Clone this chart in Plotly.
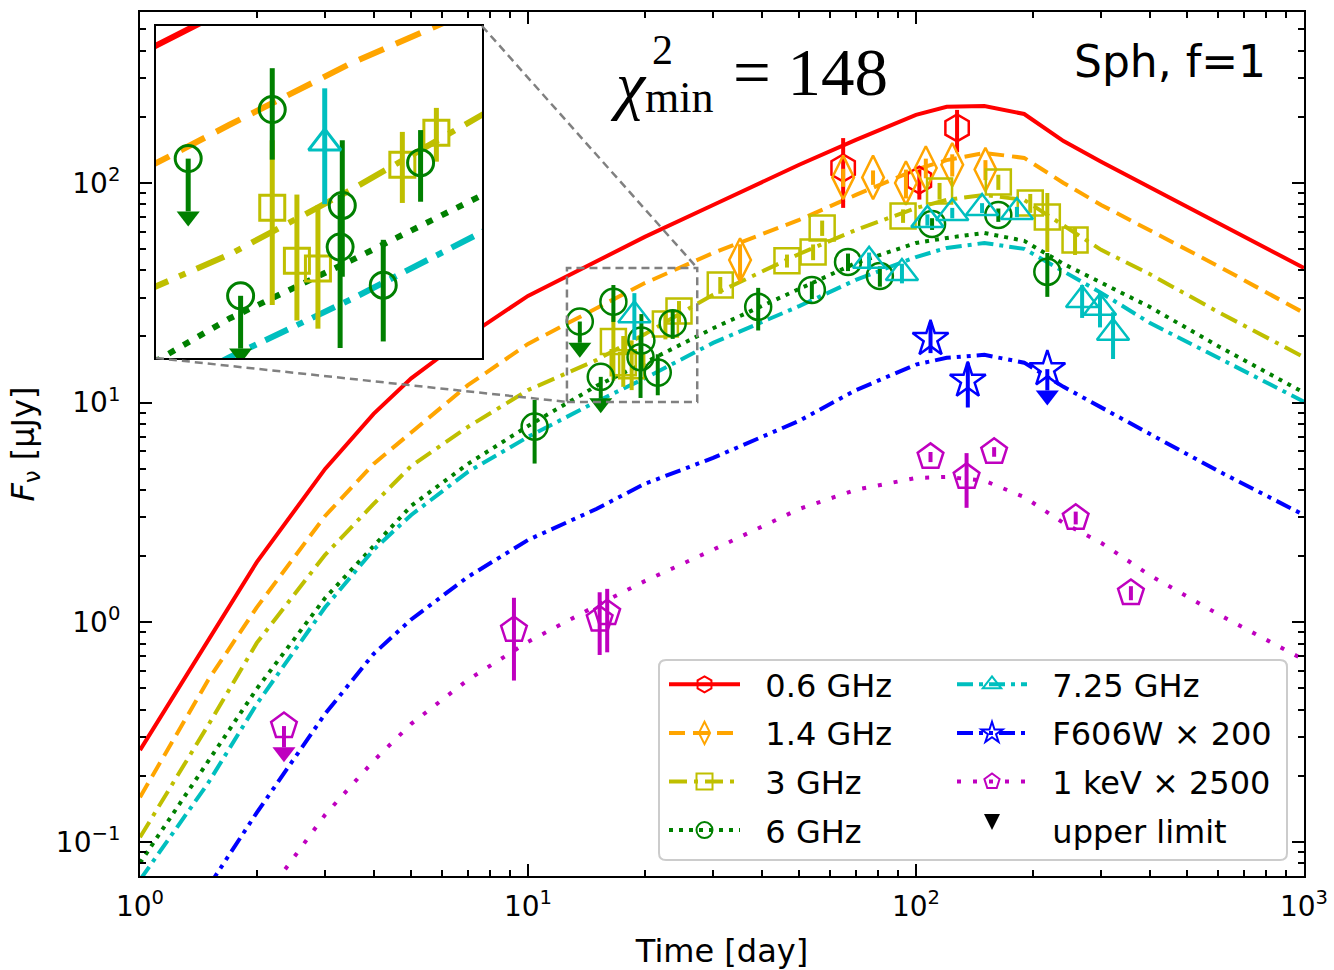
import math
import plotly.graph_objects as go

# ---------------- model light curves (common time grid, days) ----------------
t_model = [1, 1.5, 2, 3, 4, 5, 7, 10, 15, 20, 30, 50, 70, 100, 120, 150, 190, 240, 300, 400, 600, 1000]
m_0p6 = [0.262, 0.832, 1.88, 4.99, 8.89, 12.9, 20.1, 30.6, 44.2, 56.8, 79.4, 121, 157, 204, 222, 224, 206, 155, 125, 95.9, 66.4, 41.0]
m_1p4 = [0.160, 0.547, 1.17, 3.05, 5.26, 7.28, 12.0, 18.5, 27.0, 35.0, 48.0, 67.9, 88.2, 115, 127, 137, 130, 100, 79.4, 61.1, 41.9, 25.6]
m_3 = [0.105, 0.341, 0.806, 2.03, 3.46, 5.15, 7.75, 11.4, 15.6, 20.5, 31.0, 47.5, 61.1, 76.9, 83.7, 88.2, 83.7, 64.4, 49.6, 38.5, 25.9, 16.1]
m_6 = [0.0803, 0.234, 0.498, 1.29, 2.23, 3.39, 5.26, 7.83, 11.9, 15.2, 21.8, 33.0, 43.2, 53.3, 56.2, 59.2, 54.5, 42.8, 35.1, 27.3, 18.1, 11.1]
m_7p25 = [0.0672, 0.186, 0.425, 1.17, 2.14, 3.08, 4.84, 6.98, 10.1, 12.9, 18.7, 27.5, 36.2, 46.0, 50.6, 53.3, 50.1, 39.7, 31.6, 23.1, 16.0, 10.1]
m_opt = [None, 0.0625, 0.136, 0.383, 0.718, 1.03, 1.61, 2.37, 3.28, 4.27, 5.60, 8.26, 11.4, 14.9, 16.0, 16.5, 15.2, 11.8, 9.55, 7.21, 4.89, 3.08]
m_xray = [None, None, 0.0501, 0.133, 0.234, 0.345, 0.547, 0.815, 1.19, 1.54, 2.14, 3.28, 4.01, 4.54, 4.59, 4.41, 3.72, 2.83, 2.30, 1.64, 1.09, 0.675]

# ---------------- observations ----------------
t_0p6 = [64.9, 102, 127.6]
f_0p6 = [117, 103, 178]
up_0p6 = [43, 12, 37]
dn_0p6 = [40, 19, 40]

t_1p4 = [35.2, 64.9, 77.5, 94.2, 106, 124, 151]
f_1p4 = [44.6, 106, 106, 100, 117, 121, 115]
e_1p4 = [8, 10, 8, 15, 12, 14, 12]

t_3 = [16.6, 17.6, 18.5, 22.6, 24.5, 31.3, 46.5, 54.3, 57.3, 92.6, 115, 163, 197, 218, 257]
f_3 = [19.0, 15.2, 14.7, 22.8, 26.1, 34.3, 44.2, 48.5, 62.4, 70.8, 92.0, 101, 81.1, 70.0, 55.0]
up_3 = [6.3, 4.9, 4.5, 3.4, 2.9, 3, 3, 4, 5, 5, 8, 8, 8, 20, 8]
dn_3 = [6.4, 3.4, 3.3, 3.4, 3.0, 3, 3, 4, 5, 5, 8, 8, 8, 21.5, 8]

t_6 = [10.4, 16.6, 19.6, 19.5, 21.6, 23.6, 39.2, 53.9, 66.8, 80.7, 110, 163, 218]
f_6 = [7.78, 28.8, 19.2, 16.1, 13.7, 23.0, 27.3, 32.6, 43.7, 37.7, 65.1, 71.5, 39.4]
up_6 = [2.5, 5.5, 6.1, 4.0, 2.9, 3.4, 6, 3, 4, 4, 4, 5, 8.6]
dn_6 = [2.5, 5.5, 5.0, 5.6, 2.9, 3.5, 6, 3, 4, 4, 4, 5, 9.1]
t_6_ul = [13.6, 15.4]
f_6_ul = [23.4, 13.1]

t_7p25 = [18.8, 75.7, 92.0, 107, 124, 148, 182, 268, 298, 322]
f_7p25 = [25.0, 44.2, 38.9, 67.9, 73.0, 76.9, 73.8, 29.3, 27.0, 20.8]
up_7p25 = [6.5, 4, 4, 4, 4, 4, 4, 5, 5, 5]
dn_7p25 = [5.7, 4, 4, 4, 4, 4, 4, 5, 5, 5]

t_opt = [109, 136]
f_opt = [19.5, 12.6]
up_opt = [3.6, 2.6]
dn_opt = [2.7, 3.1]
t_opt_ul = [218]
f_opt_ul = [14.2]

t_xray = [9.2, 15.3, 16.0, 109, 135, 159, 258, 358]
f_xray = [0.923, 1.03, 1.10, 5.66, 4.59, 5.97, 2.99, 1.36]
up_xray = [0.37, 0.34, 0.32, 0.3, 1.3, 0.3, 0.2, 0.1]
dn_xray = [0.38, 0.32, 0.37, 0.3, 1.27, 0.3, 0.2, 0.1]
t_xray_ul = [2.35]
f_xray_ul = [0.337]

# ---------------- figure geometry ----------------
W, H = 1334, 970
ML, MR, MT, MB = 140, 30, 12, 94
PW, PH = W - ML - MR, H - MT - MB
XR = [0.0, 3.0]
YR = [math.log10(0.07), math.log10(600)]
ZX = [12.6, 27.3]           # zoom window (days)
ZY = [10.07, 41.0]          # zoom window (uJy)
INSET_X = [(156 - ML) / PW, (482 - ML) / PW]
INSET_Y = [(H - MB - 358) / PH, (H - MB - 26) / PH]
PXDEX_MAIN = PH / (YR[1] - YR[0])
PXDEX_INSET = (INSET_Y[1] - INSET_Y[0]) * PH / (math.log10(ZY[1]) - math.log10(ZY[0]))


def px(x):
    return (x - ML) / PW


def py(y):
    return (H - MB - y) / PH


def data_to_paper(t, f):
    return ((math.log10(t) - XR[0]) / (XR[1] - XR[0]),
            (math.log10(f) - YR[0]) / (YR[1] - YR[0]))


RED, ORANGE, YELLOW, GREEN = "#ff0000", "#ffa500", "#bfbf00", "#008000"
CYAN, BLUE, MAGENTA = "#00bfbf", "#0000ff", "#bf00bf"

series = [
    # name, color, model, main dash, inset dash, symbol, size
    ("0.6 GHz", RED, m_0p6, "solid", "solid", "hexagon-open", 27),
    ("1.4 GHz", ORANGE, m_1p4, "16px,8px", "27px,13px", "diamond-tall-open", 31),
    ("3 GHz", YELLOW, m_3, "18px,7px,4px,7px", "30px,12px,7px,12px", "square-open", 25),
    ("6 GHz", GREEN, m_6, "4px,6px", "7px,10px", "circle-open", 26),
    ("7.25 GHz", CYAN, m_7p25, "16px,6px,4px,6px", "25px,10px,7px,10px", "triangle-up-open", 28),
    ("F606W × 200", BLUE, m_opt, "16px,6px,4px,6px,4px,6px", "25px,10px,7px,10px,7px,10px", "star-open", 27),
    ("1 keV × 2500", MAGENTA, m_xray, "4px,12px", "7px,18px", "pentagon-open", 27),
]

obs = {
    "0.6 GHz": (t_0p6, f_0p6, up_0p6, dn_0p6),
    "1.4 GHz": (t_1p4, f_1p4, e_1p4, e_1p4),
    "3 GHz": (t_3, f_3, up_3, dn_3),
    "6 GHz": (t_6, f_6, up_6, dn_6),
    "7.25 GHz": (t_7p25, f_7p25, up_7p25, dn_7p25),
    "F606W × 200": (t_opt, f_opt, up_opt, dn_opt),
    "1 keV × 2500": (t_xray, f_xray, up_xray, dn_xray),
}
uplims = {
    "6 GHz": (t_6_ul, f_6_ul),
    "F606W × 200": (t_opt_ul, f_opt_ul),
    "1 keV × 2500": (t_xray_ul, f_xray_ul),
}

fig = go.Figure()

panels = [
    # axes, line width, errorbar width, marker edge, dash index, px per decade
    (("x", "y"), 4.0, 4, 2.5, 3, PXDEX_MAIN),
    (("x2", "y2"), 6.0, 5, 3.0, 4, PXDEX_INSET),
]

for (xa, ya), lw, ew, mew, di, pxdex in panels:
    # model curves
    for s in series:
        name, col, model = s[0], s[1], s[2]
        fig.add_trace(go.Scatter(
            x=t_model, y=model, mode="lines", xaxis=xa, yaxis=ya,
            line=dict(color=col, width=lw, dash=s[di]),
            showlegend=False, hoverinfo="skip", connectgaps=False))
    # detections with error bars
    for s in series:
        name, col, sym, ms = s[0], s[1], s[5], s[6]
        t, f, up, dn = obs[name]
        fig.add_trace(go.Scatter(
            x=t, y=f, mode="markers", xaxis=xa, yaxis=ya,
            marker=dict(symbol=sym, size=ms, color=col, line=dict(color=col, width=mew)),
            error_y=dict(type="data", symmetric=False, array=up, arrayminus=dn,
                         color=col, thickness=ew, width=0),
            showlegend=False, hoverinfo="skip"))
    # upper limits: marker, shaft down to 0.8 F and a filled arrow head
    head_shift = 10 ** (-5.0 / pxdex)
    for s in series:
        name, col, sym, ms = s[0], s[1], s[5], s[6]
        if name not in uplims:
            continue
        t, f = uplims[name]
        fig.add_trace(go.Scatter(
            x=t, y=f, mode="markers", xaxis=xa, yaxis=ya,
            marker=dict(symbol=sym, size=ms, color=col, line=dict(color=col, width=mew)),
            error_y=dict(type="data", symmetric=False, array=[0] * len(f),
                         arrayminus=[0.2 * v for v in f], color=col, thickness=ew, width=0),
            showlegend=False, hoverinfo="skip"))
        fig.add_trace(go.Scatter(
            x=t, y=[0.8 * v * head_shift for v in f], mode="markers", xaxis=xa, yaxis=ya,
            marker=dict(symbol="triangle-down", size=20, color=col, line=dict(width=0)),
            showlegend=False, hoverinfo="skip"))

# legend entries (two columns)
PAD = "\u00a0\u00a0"
for i, s in enumerate(series):
    name, col, sym = s[0], s[1], s[5]
    fig.add_trace(go.Scatter(
        x=[None], y=[None], mode="lines+markers", name=PAD + name,
        legend="legend" if i < 4 else "legend2", legendgroup=name,
        line=dict(color=col, width=4, dash=s[3]),
        marker=dict(symbol=sym, size=16, color=col, line=dict(color=col, width=2))))
fig.add_trace(go.Scatter(
    x=[None], y=[None], mode="markers", name=PAD + "upper limit",
    legend="legend2", legendgroup="ul",
    marker=dict(symbol="arrow-down", size=16, color="black", line=dict(width=0))))

# zoom window, connectors and legend frame
bx0, by0 = data_to_paper(ZX[0], ZY[0])
bx1, by1 = data_to_paper(ZX[1], ZY[1])
gray = dict(color="#808080", width=2.5, dash="8px,5px")
shapes = [
    dict(type="rect", xref="paper", yref="paper", x0=bx0, y0=by0, x1=bx1, y1=by1,
         line=gray, layer="above"),
    dict(type="line", xref="paper", yref="paper", x0=INSET_X[1], y0=INSET_Y[1], x1=bx1, y1=by1,
         line=gray, layer="above"),
    dict(type="line", xref="paper", yref="paper", x0=INSET_X[0], y0=INSET_Y[0], x1=bx0, y1=by0,
         line=gray, layer="above"),
]
lx0, lx1, ly0, ly1 = px(659), px(1287), py(860), py(660)
rx, ry = 7 / PW, 7 / PH
legend_path = (f"M{lx0+rx},{ly0} L{lx1-rx},{ly0} Q{lx1},{ly0} {lx1},{ly0+ry} "
               f"L{lx1},{ly1-ry} Q{lx1},{ly1} {lx1-rx},{ly1} L{lx0+rx},{ly1} "
               f"Q{lx0},{ly1} {lx0},{ly1-ry} L{lx0},{ly0+ry} Q{lx0},{ly0} {lx0+rx},{ly0} Z")
shapes.append(dict(type="path", xref="paper", yref="paper", path=legend_path,
                   fillcolor="rgba(255,255,255,0.85)", line=dict(color="#cccccc", width=2),
                   layer="above"))

serif = "Liberation Serif, Times New Roman, serif"
annotations = [
    dict(x=px(608), y=py(84), xref="paper", yref="paper", xanchor="left", yanchor="middle",
         text="<i>χ</i>", showarrow=False, font=dict(family=serif, size=66, color="black")),
    dict(x=px(650), y=py(50), xref="paper", yref="paper", xanchor="left", yanchor="middle",
         text="2", showarrow=False, font=dict(family=serif, size=42, color="black")),
    dict(x=px(643), y=py(97), xref="paper", yref="paper", xanchor="left", yanchor="middle",
         text="min", showarrow=False, font=dict(family=serif, size=44, color="black")),
    dict(x=px(731), y=py(72), xref="paper", yref="paper", xanchor="left", yanchor="middle",
         text="= 148", showarrow=False, font=dict(family=serif, size=67, color="black")),
    dict(x=px(1268), y=py(62), xref="paper", yref="paper", xanchor="right", yanchor="middle",
         text="Sph, f=1", showarrow=False, font=dict(family="DejaVu Sans", size=44, color="black")),
]

minor_x = [m * 10 ** d for d in range(0, 3) for m in range(2, 10)]
minor_y = [m * 10 ** d for d in range(-2, 3) for m in range(2, 10)]
tickfont = dict(family="DejaVu Sans", size=28, color="black")
titlefont = dict(family="DejaVu Sans", size=32, color="black")

fig.update_layout(
    width=W, height=H, margin=dict(l=ML, r=MR, t=MT, b=MB, autoexpand=False),
    paper_bgcolor="white", plot_bgcolor="white",
    font=dict(family="DejaVu Sans", color="black"),
    xaxis=dict(type="log", range=XR, domain=[0, 1], showgrid=False, zeroline=False,
               automargin=False,
               showline=True, linecolor="black", linewidth=2, mirror="ticks",
               ticks="inside", ticklen=12, tickwidth=2, tickcolor="black",
               tickmode="array", tickvals=[1, 10, 100, 1000],
               ticktext=["10<sup>0</sup>", "10<sup>1</sup>", "10<sup>2</sup>", "10<sup>3</sup>"],
               tickfont=tickfont, ticklabelstandoff=4,
               minor=dict(ticks="inside", ticklen=6, tickwidth=1.5, tickcolor="black",
                          tickmode="array", tickvals=minor_x, showgrid=False),
               title=dict(text="Time [day]", font=titlefont, standoff=18)),
    yaxis=dict(type="log", range=YR, domain=[0, 1], showgrid=False, zeroline=False,
               automargin=False,
               showline=True, linecolor="black", linewidth=2, mirror="ticks",
               ticks="inside", ticklen=12, tickwidth=2, tickcolor="black",
               tickmode="array", tickvals=[0.1, 1, 10, 100],
               ticktext=["10<sup>−1</sup>", "10<sup>0</sup>", "10<sup>1</sup>", "10<sup>2</sup>"],
               tickfont=tickfont, ticklabelstandoff=12,
               minor=dict(ticks="inside", ticklen=6, tickwidth=1.5, tickcolor="black",
                          tickmode="array", tickvals=minor_y, showgrid=False),
               title=dict(text="<i>F</i><sub>ν</sub> [μJy]", font=titlefont, standoff=12)),
    xaxis2=dict(type="log", range=[math.log10(ZX[0]), math.log10(ZX[1])], domain=INSET_X,
                anchor="y2", showgrid=False, zeroline=False, showline=True, linecolor="black",
                linewidth=2, mirror=True, ticks="", showticklabels=False, automargin=False),
    yaxis2=dict(type="log", range=[math.log10(ZY[0]), math.log10(ZY[1])], domain=INSET_Y,
                anchor="x2", showgrid=False, zeroline=False, showline=True, linecolor="black",
                linewidth=2, mirror=True, ticks="", showticklabels=False, automargin=False),
    legend=dict(x=px(664), y=py(657), xanchor="left", yanchor="top",
                bgcolor="rgba(0,0,0,0)", borderwidth=0, traceorder="grouped",
                tracegroupgap=4, itemwidth=71,
                font=dict(family="DejaVu Sans", size=32, color="black")),
    legend2=dict(x=px(952), y=py(657), xanchor="left", yanchor="top",
                 bgcolor="rgba(0,0,0,0)", borderwidth=0, traceorder="grouped",
                 tracegroupgap=4, itemwidth=70,
                 font=dict(family="DejaVu Sans", size=32, color="black")),
    shapes=shapes, annotations=annotations, showlegend=True,
)

fig.write_html("out.html")
